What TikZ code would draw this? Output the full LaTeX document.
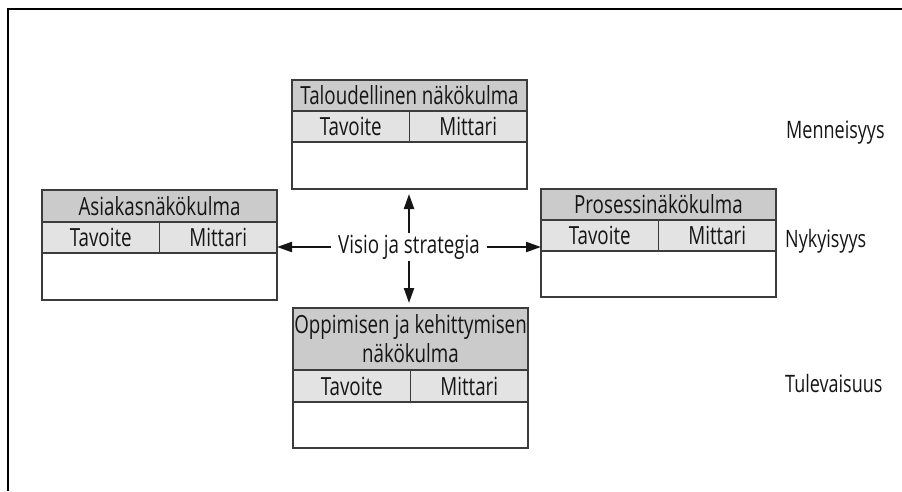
\documentclass[tikz,border=0pt]{standalone}
\usepackage{fontspec}
\setmainfont{Open Sans}[FakeStretch=0.75]
\usetikzlibrary{arrows.meta}

\definecolor{hdrgray}{HTML}{CBCBCB}
\definecolor{rowgray}{HTML}{E3E3E3}
\definecolor{edge}{HTML}{3C3C3C}
\definecolor{ink}{HTML}{151515}

\tikzset{
  cellbase/.style={draw=edge, line width=1.5pt, rectangle, inner sep=0pt,
    outer sep=0pt, anchor=north west, text=ink, align=center,
    font=\fontsize{25}{27}\selectfont},
  hdr/.style={cellbase, fill=hdrgray, minimum width=235pt},
  half/.style={cellbase, fill=rowgray, minimum width=117.5pt, minimum height=31pt},
  bodycell/.style={cellbase, fill=white, minimum width=235pt},
  period/.style={anchor=west, text=ink, inner sep=0pt,
    font=\fontsize{24}{27}\selectfont},
  pointer/.style={draw=ink, line width=2.2pt, -{Triangle[length=15pt,width=10pt]}},
  frameline/.style={line width=2.5pt, black}
}

\begin{document}
\begin{tikzpicture}[x=1pt, y=-1pt]
  \useasboundingbox (0,0) rectangle (902,491);

  % page frame
  \draw[frameline] (8,491) -- (8,9) -- (902,9);

  % Taloudellinen näkökulma
  \node[hdr, minimum height=31pt] (Th) at (292,80) {Taloudellinen näkökulma};
  \node[half] (Tt) at (Th.south west) {Tavoite};
  \node[half] (Tm) at (Tt.north east) {Mittari};
  \node[bodycell, minimum height=47pt] (Tb) at (Tt.south west) {};

  % Asiakasnäkökulma
  \node[hdr, minimum height=32pt] (Ah) at (42,190) {Asiakasnäkökulma};
  \node[half] (At) at (Ah.south west) {Tavoite};
  \node[half] (Am) at (At.north east) {Mittari};
  \node[bodycell, minimum height=47pt] (Ab) at (At.south west) {};

  % Prosessinäkökulma
  \node[hdr, minimum height=31pt] (Ph) at (541,189) {Prosessinäkökulma};
  \node[half] (Pt) at (Ph.south west) {Tavoite};
  \node[half] (Pm) at (Pt.north east) {Mittari};
  \node[bodycell, minimum height=46pt] (Pb) at (Pt.south west) {};

  % Oppimisen ja kehittymisen näkökulma
  \node[hdr, minimum height=62pt, font=\fontsize{25}{29}\selectfont] (Oh) at (293,308)
    {Oppimisen ja kehittymisen\\näkökulma};
  \node[half, minimum height=32pt] (Ot) at (Oh.south west) {Tavoite};
  \node[half, minimum height=32pt] (Om) at (Ot.north east) {Mittari};
  \node[bodycell, minimum height=46pt] (Ob) at (Ot.south west) {};

  % centre
  \node[text=ink, inner xsep=7pt, inner ysep=2pt, font=\fontsize{25}{27}\selectfont]
    (vis) at (409,247) {Visio ja strategia};

  \draw[pointer, shorten >=5pt] (vis.north) -- (vis.north |- Tb.south);
  \draw[pointer, shorten >=5pt] (vis.south) -- (vis.south |- Oh.north);
  \draw[pointer] (vis.west) -- (vis.west -| Am.east);
  \draw[pointer] (vis.east) -- (vis.east -| Pt.west);

  % time labels
  \node[period] (past) at (786,133) {Menneisyys};
  \node[period] (now) at (785,241) {Nykyisyys};
  \node[period] (future) at (785,383) {Tulevaisuus};
\end{tikzpicture}
\end{document}
